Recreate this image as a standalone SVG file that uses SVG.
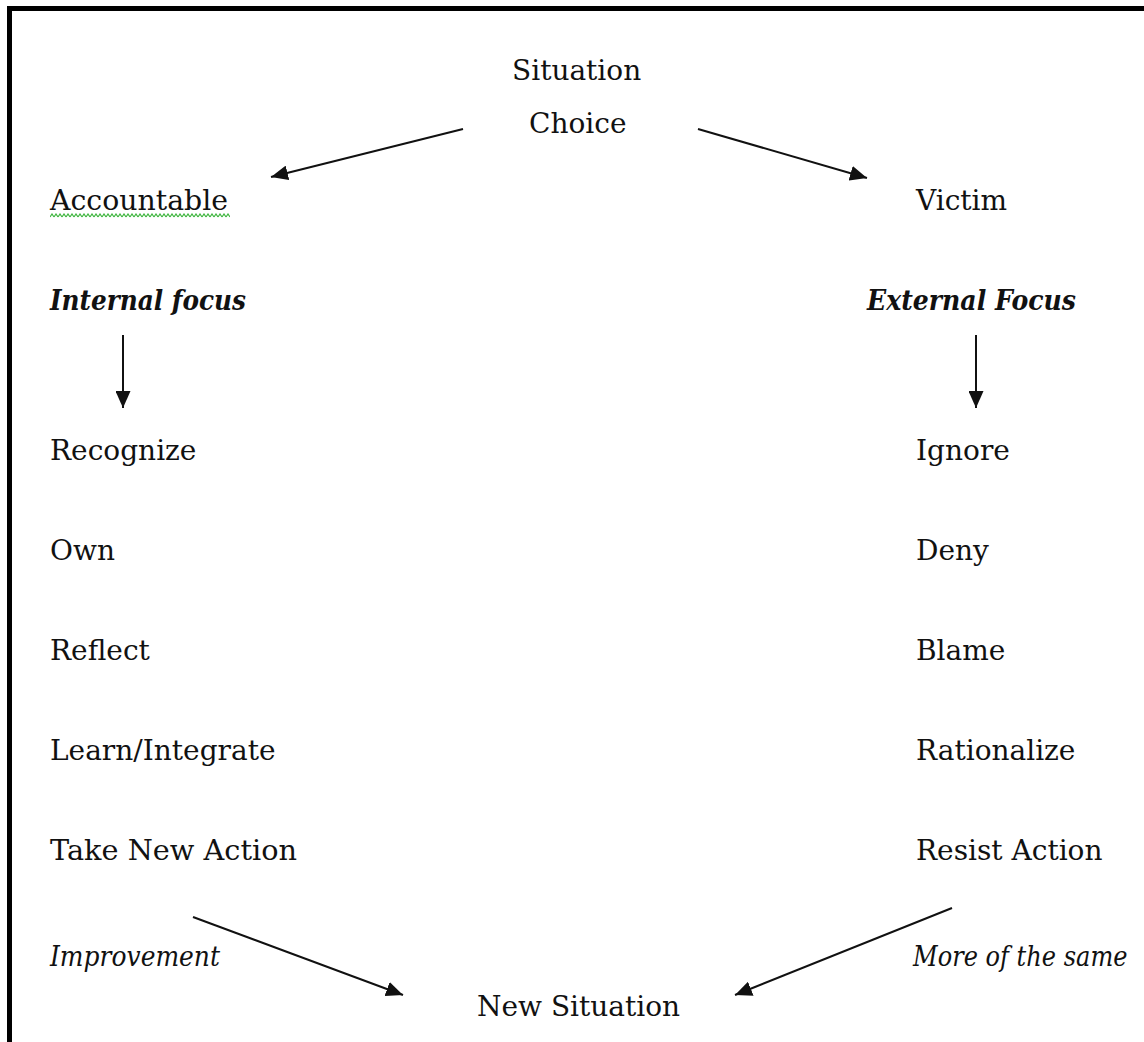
<svg xmlns="http://www.w3.org/2000/svg" width="1144" height="1042" viewBox="0 0 1144 1042">
  <style>
    .t { font-family: "DejaVu Serif", "Liberation Serif", serif; font-size: 28px; fill: #111; }
    .i { font-style: italic; }
    .bi { font-style: italic; font-weight: bold; }
    .edge { stroke: #111; stroke-width: 2; fill: none; marker-end: url(#head); }
  </style>
  <defs>
    <marker id="head" markerUnits="userSpaceOnUse" markerWidth="18" markerHeight="15" refX="17" refY="7.5" orient="auto">
      <path d="M0,0 L17,7.5 L0,15 z" fill="#111"/>
    </marker>
    <pattern id="squiggle" patternUnits="userSpaceOnUse" x="50" y="213" width="4" height="5">
      <path d="M0,4 L2,1 L4,4" stroke="#3cb43c" stroke-width="1.2" fill="none"/>
    </pattern>
  </defs>

  <rect width="1144" height="1042" fill="#fff"/>

  <!-- frame: top and left rules -->
  <rect x="7" y="6" width="1137" height="5" fill="#000"/>
  <rect x="7" y="6" width="5" height="1036" fill="#000"/>

  <!-- connectors -->
  <g id="connectors">
    <line class="edge" x1="463" y1="129" x2="271" y2="177"/>
    <line class="edge" x1="698" y1="129" x2="867" y2="178"/>
    <line class="edge" x1="123" y1="335" x2="123" y2="408"/>
    <line class="edge" x1="976" y1="335" x2="976" y2="408"/>
    <line class="edge" x1="193" y1="917" x2="403" y2="995"/>
    <line class="edge" x1="952" y1="908" x2="735" y2="995"/>
  </g>

  <g id="situation"><text class="t" x="512" y="80">Situation</text></g>
  <g id="choice"><text class="t" x="529" y="133">Choice</text></g>

  <g id="accountable">
    <text class="t" x="50" y="210" textLength="178" lengthAdjust="spacingAndGlyphs">Accountable</text>
    <rect x="50" y="213" width="180" height="5" fill="url(#squiggle)"/>
  </g>
  <g id="victim"><text class="t" x="916" y="210">Victim</text></g>

  <g id="internal-focus"><text class="t bi" x="50" y="310" textLength="196" lengthAdjust="spacingAndGlyphs">Internal focus</text></g>
  <g id="external-focus"><text class="t bi" x="867" y="310" textLength="209" lengthAdjust="spacingAndGlyphs">External Focus</text></g>

  <g id="recognize"><text class="t" x="50" y="460">Recognize</text></g>
  <g id="own"><text class="t" x="50" y="560">Own</text></g>
  <g id="reflect"><text class="t" x="50" y="660">Reflect</text></g>
  <g id="learn-integrate"><text class="t" x="50" y="760">Learn/Integrate</text></g>
  <g id="take-new-action"><text class="t" x="50" y="860" textLength="247" lengthAdjust="spacingAndGlyphs">Take New Action</text></g>

  <g id="ignore"><text class="t" x="916" y="460">Ignore</text></g>
  <g id="deny"><text class="t" x="916" y="560">Deny</text></g>
  <g id="blame"><text class="t" x="916" y="660">Blame</text></g>
  <g id="rationalize"><text class="t" x="916" y="760">Rationalize</text></g>
  <g id="resist-action"><text class="t" x="916" y="860">Resist Action</text></g>

  <g id="improvement"><text class="t i" x="50" y="966" textLength="170" lengthAdjust="spacingAndGlyphs">Improvement</text></g>
  <g id="more-of-the-same" transform="translate(913,966) scale(0.86,1)"><text class="t i" x="0" y="0">More of the same</text></g>

  <g id="new-situation"><text class="t" x="477" y="1016">New Situation</text></g>
</svg>
